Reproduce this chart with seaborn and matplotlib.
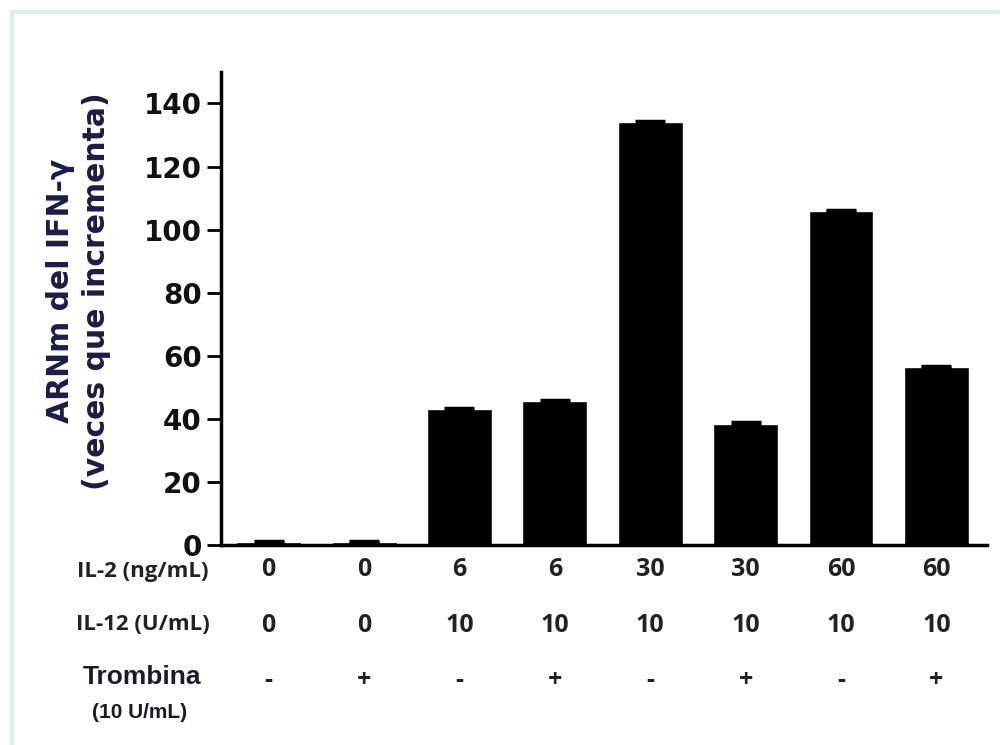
import matplotlib
matplotlib.use("Agg")
import matplotlib.pyplot as plt
import matplotlib.transforms as mtransforms
from matplotlib.patches import Rectangle
import pandas as pd
import seaborn as sns

# data
il2 = ["0", "0", "6", "6", "30", "30", "60", "60"]
il12 = ["0", "0", "10", "10", "10", "10", "10", "10"]
trombina = ["-", "+", "-", "+", "-", "+", "-", "+"]
fold = [1.0, 0.8, 43.0, 45.5, 134.0, 38.5, 106.0, 56.5]
fold_err = [0.3, 0.3, 0.4, 0.4, 0.4, 0.4, 0.3, 0.3]
row_labels = ["IL-2 (ng/mL)", "IL-12 (U/mL)"]

df = pd.DataFrame({
    "cond": [f"{a}/{b}/{c}" for a, b, c in zip(il2, il12, trombina)],
    "fold": fold,
})

sns.set_theme(style="white")
plt.rcParams["font.family"] = ["DejaVu Sans"]

fig = plt.figure(figsize=(10, 7.45), dpi=100)
ax = fig.add_axes([0.221, 0.2685, 0.766, 0.635])

sns.barplot(data=df, x="cond", y="fold", color="black", saturation=1,
            width=0.68, errorbar=None, ax=ax)
ax.errorbar(range(len(fold)), fold, yerr=fold_err, fmt="none",
            ecolor="black", elinewidth=2, capsize=11, capthick=2.5)

ax.set_xlim(-0.50, 7.53)
ax.set_ylim(0, 150)
ax.set_yticks(range(0, 141, 20))
ax.set_xlabel("")
ax.set_ylabel("")
sns.despine(ax=ax)
for side in ["left", "bottom"]:
    ax.spines[side].set_linewidth(2.5)
    ax.spines[side].set_color("black")
ax.tick_params(axis="x", bottom=False, labelbottom=False)
ax.tick_params(axis="y", left=True, length=10, width=2, color="black", pad=4)
for lab in ax.get_yticklabels():
    lab.set_fontsize(20)
    lab.set_fontweight("bold")
    lab.set_color("#111111")

# y label, two lines
navy = "#1c1c4a"
ax.text(-0.209, 0.537, "ARNm del IFN-γ", transform=ax.transAxes, rotation=90,
        ha="center", va="center", fontsize=21.5, fontweight="bold", color=navy)
ax.text(-0.162, 0.537, "(veces que incrementa)", transform=ax.transAxes,
        rotation=90, ha="center", va="center", fontsize=21.5,
        fontweight="bold", color=navy)

# condition table under the axis
trans = mtransforms.blended_transform_factory(ax.transData, fig.transFigure)
tfont = dict(family=["Open Sans", "DejaVu Sans"], fontweight="bold",
             color="#222222")
rows_y = [1 - 570 / 745, 1 - 626 / 745, 1 - 681 / 745]
for i in range(len(fold)):
    ax.text(i, rows_y[0], il2[i], transform=trans, ha="center", va="center",
            fontsize=18, **tfont)
    ax.text(i, rows_y[1], il12[i], transform=trans, ha="center", va="center",
            fontsize=18, **tfont)
    ax.text(i, rows_y[2], trombina[i], transform=trans, ha="center",
            va="center", fontsize=18, **tfont)

fig.text(0.143, 1 - 572 / 745, row_labels[0], ha="center", va="center",
         fontsize=16, **tfont)
fig.text(0.143, 1 - 624 / 745, row_labels[1], ha="center", va="center",
         fontsize=16, **tfont)
fig.text(0.142, 1 - 677 / 745, "Trombina", ha="center", va="center",
         fontsize=19, fontweight="bold", color="#1a1a2e",
         family=["Liberation Sans", "DejaVu Sans"])
fig.text(0.140, 1 - 713 / 745, "(10 U/mL)", ha="center", va="center",
         fontsize=15, fontweight="bold", color="#1a1a2e",
         family=["Liberation Sans", "DejaVu Sans"])

# light frame around the picture
fig.patches.append(Rectangle((0.012, -0.1), 1.2, 1.1 - 12 / 745,
                             transform=fig.transFigure, fill=False,
                             edgecolor="#dcedf3", linewidth=3))

fig.savefig("out.png", dpi=100)
